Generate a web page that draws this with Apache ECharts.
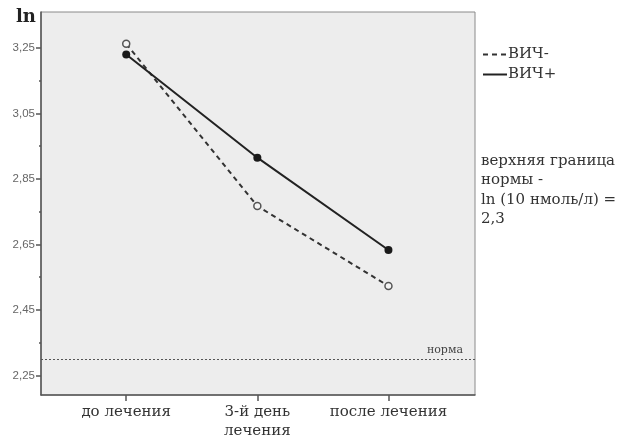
<!DOCTYPE html>
<html><head><meta charset="utf-8">
<script src="https://cdn.jsdelivr.net/npm/echarts@6/dist/echarts.min.js"></script>
<style>html,body{margin:0;padding:0;background:#fff}#c{width:626px;height:441px}</style>
</head><body><div id="c"></div>
<script>
const categories = ['до лечения', '3-й день\nлечения', 'после лечения'];
const hivNeg = [3.263, 2.767, 2.523];
const hivPos = [3.230, 2.915, 2.633];
const yTicks = [2.25, 2.45, 2.65, 2.85, 3.05, 3.25];
const yMinorTicks = [2.35, 2.55, 2.75, 2.95, 3.15];
const normValue = 2.3;
const seriesNames = ['ВИЧ-', 'ВИЧ+'];
const noteLines = ['верхняя граница', 'нормы -', 'ln (10 нмоль/л) =', '2,3'];

const serif = 'DejaVu Serif';
const chart = echarts.init(document.getElementById('c'));
const toPts = arr => arr.map((v, i) => [i, v]);
const yRange = {min: 2.19, max: 3.36};
chart.setOption({
  animation: false,
  backgroundColor: '#fff',
  grid: {left: 41, top: 12, right: 151, bottom: 45, show: true, backgroundColor: '#ededed', borderColor: '#8a8a8a', borderWidth: 1},
  xAxis: {
    type: 'value', min: -0.65, max: 2.66,
    splitLine: {show: false},
    axisLine: {onZero: false, lineStyle: {color: '#555', width: 1.5}},
    axisTick: {customValues: [0, 1, 2], length: 6, lineStyle: {color: '#555', width: 1.5}},
    axisLabel: {customValues: [0, 1, 2], formatter: v => categories[Math.round(v)], color: '#333', fontFamily: serif, fontSize: 15, lineHeight: 19, margin: 8}
  },
  yAxis: [{
    type: 'value', min: yRange.min, max: yRange.max,
    splitLine: {show: false},
    axisLine: {show: true, onZero: false, lineStyle: {color: '#555', width: 1.5}},
    axisTick: {show: true, customValues: yTicks, length: 5, lineStyle: {color: '#555', width: 1.5}},
    axisLabel: {customValues: yTicks, formatter: v => v.toFixed(2).replace('.', ','), color: '#666', fontFamily: 'Liberation Sans', fontSize: 11.5, margin: 6}
  }, {
    type: 'value', min: yRange.min, max: yRange.max, position: 'left',
    splitLine: {show: false},
    axisLine: {show: false, onZero: false},
    axisTick: {show: true, customValues: yMinorTicks, length: 2, lineStyle: {color: '#555', width: 1.5}},
    axisLabel: {show: false}
  }],
  legend: {
    left: 477, top: 42, orient: 'vertical', itemGap: 5, itemWidth: 24, itemHeight: 14,
    textStyle: {fontFamily: serif, fontSize: 15, color: '#333', padding: [0, 0, 0, -4]},
    data: [
      {name: seriesNames[0], itemStyle: {opacity: 0}},
      {name: seriesNames[1], itemStyle: {opacity: 0}}
    ]
  },
  series: [{
    name: seriesNames[0], type: 'line', data: toPts(hivNeg),
    symbol: 'circle', symbolSize: 7,
    lineStyle: {color: '#333', width: 2, type: [5, 4]},
    itemStyle: {color: '#f4f4f4', borderColor: '#555', borderWidth: 1.5},
    markLine: {
      silent: true, symbol: 'none',
      lineStyle: {color: '#555', width: 1, type: [2, 2]},
      label: {show: true, position: 'insideEndTop', formatter: 'норма', fontFamily: serif, fontSize: 11, color: '#444', distance: [12, 3]},
      data: [{yAxis: normValue}]
    }
  }, {
    name: seriesNames[1], type: 'line', data: toPts(hivPos),
    symbol: 'circle', symbolSize: 8,
    lineStyle: {color: '#222', width: 2},
    itemStyle: {color: '#1a1a1a', borderColor: '#1a1a1a', borderWidth: 0}
  }],
  graphic: [
    {type: 'text', left: 16, top: 8, style: {text: 'ln', font: 'bold 18px "DejaVu Serif"', fill: '#222'}},
    {type: 'text', left: 481, top: 151, style: {text: noteLines.join('\n'), font: '15px "DejaVu Serif"', lineHeight: 19.5, fill: '#333'}}
  ]
});
</script></body></html>
